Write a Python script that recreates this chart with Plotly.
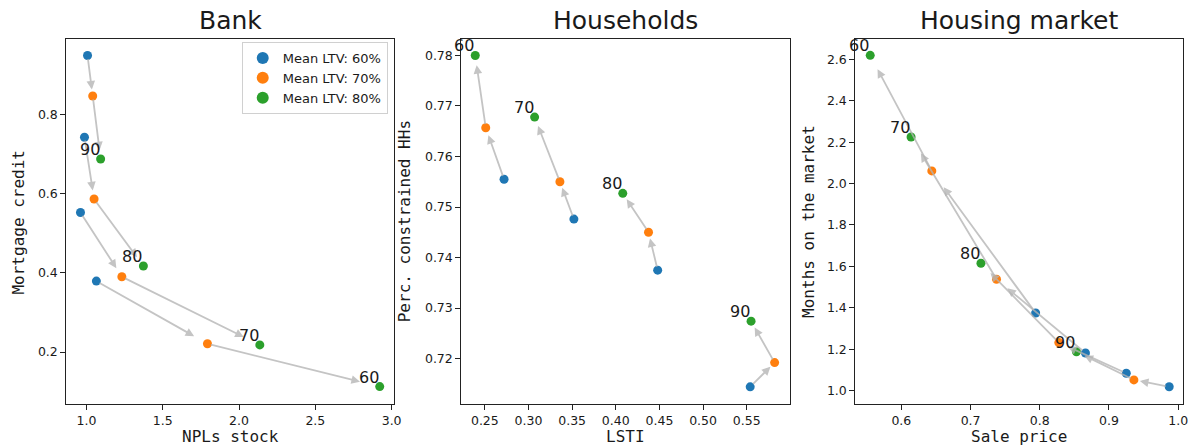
import plotly.graph_objects as go
import numpy as np

W, H = 1197, 447

# ---------------- data ----------------
scenarios = ["60", "70", "80", "90"]
ltv_labels = ["Mean LTV: 60%", "Mean LTV: 70%", "Mean LTV: 80%"]
colors = ["#1f77b4", "#ff7f0e", "#2ca02c"]

# Bank: NPLs stock (x) vs Mortgage credit (y); one list per mean LTV, ordered by scenario 60,70,80,90
bank_x_ltv60 = [1.065, 0.961, 0.987, 1.007]
bank_x_ltv70 = [1.793, 1.232, 1.050, 1.041]
bank_x_ltv80 = [2.922, 2.136, 1.373, 1.093]
bank_y_ltv60 = [0.379, 0.552, 0.742, 0.948]
bank_y_ltv70 = [0.221, 0.390, 0.586, 0.846]
bank_y_ltv80 = [0.113, 0.218, 0.417, 0.687]

# Households: LSTI (x) vs Perc. constrained HHs (y)
hh_x_ltv60 = [0.272, 0.352, 0.448, 0.554]
hh_x_ltv70 = [0.251, 0.336, 0.4375, 0.582]
hh_x_ltv80 = [0.239, 0.307, 0.408, 0.555]
hh_y_ltv60 = [0.7555, 0.7476, 0.7375, 0.7144]
hh_y_ltv70 = [0.7657, 0.7550, 0.7450, 0.7192]
hh_y_ltv80 = [0.7800, 0.7678, 0.7527, 0.7274]

# Housing market: Sale price (x) vs Months on the market (y)
hm_x_ltv60 = [0.794, 0.866, 0.925, 0.987]
hm_x_ltv70 = [0.644, 0.7375, 0.8275, 0.936]
hm_x_ltv80 = [0.555, 0.614, 0.715, 0.853]
hm_y_ltv60 = [1.375, 1.182, 1.084, 1.019]
hm_y_ltv70 = [2.061, 1.538, 1.232, 1.052]
hm_y_ltv80 = [2.619, 2.225, 1.615, 1.188]

bank_ticks_x = [1.0, 1.5, 2.0, 2.5, 3.0]
bank_ticks_y = [0.2, 0.4, 0.6, 0.8]
hh_ticks_x = [0.25, 0.30, 0.35, 0.40, 0.45, 0.50, 0.55]
hh_ticks_y = [0.72, 0.73, 0.74, 0.75, 0.76, 0.77, 0.78]
hm_ticks_x = [0.6, 0.7, 0.8, 0.9, 1.0]
hm_ticks_y = [1.0, 1.2, 1.4, 1.6, 1.8, 2.0, 2.2, 2.4, 2.6]

panels = [
    dict(title="Bank", xlabel="NPLs stock", ylabel="Mortgage credit",
         xs=[bank_x_ltv60, bank_x_ltv70, bank_x_ltv80],
         ys=[bank_y_ltv60, bank_y_ltv70, bank_y_ltv80],
         xrange=[0.868, 3.018], yrange=[0.069, 0.989],
         xticks=bank_ticks_x, yticks=bank_ticks_y, xfmt=".1f", yfmt=".1f",
         px=(66.7, 396.7), ylab_x=19),
    dict(title="Households", xlabel="LSTI", ylabel="Perc. constrained HHs",
         xs=[hh_x_ltv60, hh_x_ltv70, hh_x_ltv80],
         ys=[hh_y_ltv60, hh_y_ltv70, hh_y_ltv80],
         xrange=[0.223, 0.600], yrange=[0.7110, 0.7832],
         xticks=hh_ticks_x, yticks=hh_ticks_y, xfmt=".2f", yfmt=".2f",
         px=(464.0, 795.0), ylab_x=407),
    dict(title="Housing market", xlabel="Sale price", ylabel="Months on the market",
         xs=[hm_x_ltv60, hm_x_ltv70, hm_x_ltv80],
         ys=[hm_y_ltv60, hm_y_ltv70, hm_y_ltv80],
         xrange=[0.5334, 1.007], yrange=[0.9356, 2.6966],
         xticks=hm_ticks_x, yticks=hm_ticks_y, xfmt=".1f", yfmt=".1f",
         px=(860.3, 1190.0), ylab_x=813),
]

TOP, BOT = 39.3, 404.0
ydom = [1 - BOT / H, 1 - TOP / H]
plot_h = BOT - TOP

fig = go.Figure()
annotations = []
TXT = "#1a1a1a"
layout = {}

for i, p in enumerate(panels):
    n = "" if i == 0 else str(i + 1)
    xref, yref = "x" + n, "y" + n
    x0, x1 = p["px"]
    plot_w = x1 - x0
    xdom = [x0 / W, x1 / W]

    # arrows: LTV60 -> LTV70 -> LTV80 within each scenario
    sx = plot_w / (p["xrange"][1] - p["xrange"][0])
    sy = plot_h / (p["yrange"][1] - p["yrange"][0])
    for j in range(len(scenarios)):
        for k in range(2):
            ax_, ay_ = p["xs"][k][j], p["ys"][k][j]
            hx, hy = p["xs"][k + 1][j], p["ys"][k + 1][j]
            L = np.hypot((hx - ax_) * sx, (hy - ay_) * sy)
            annotations.append(dict(
                x=hx, y=hy, ax=ax_, ay=ay_, xref=xref, yref=yref,
                axref=xref, ayref=yref, text="", showarrow=True,
                arrowhead=2, arrowsize=0.95, arrowwidth=1.8,
                arrowcolor="rgba(180,180,180,0.78)",
                standoff=0.1 * L + 2.5, startstandoff=2))

    for k in range(3):
        fig.add_trace(go.Scatter(
            x=p["xs"][k], y=p["ys"][k], mode="markers",
            marker=dict(color=colors[k], size=9, line=dict(width=0)),
            name=ltv_labels[k], showlegend=(i == 0), legendgroup=ltv_labels[k],
            xaxis=xref, yaxis=yref))

    # scenario labels next to the LTV80 point
    for j, s in enumerate(scenarios):
        annotations.append(dict(
            x=p["xs"][2][j], y=p["ys"][2][j], xref=xref, yref=yref,
            text=s, showarrow=False, xanchor="right", yanchor="bottom",
            xshift=1, yshift=-2,
            font=dict(family="DejaVu Sans", size=16, color=TXT)))

    axcommon = dict(showline=True, mirror=True, linecolor="#222", linewidth=1,
                    ticks="outside", ticklen=5, tickcolor="#222", tickwidth=1,
                    showgrid=False, zeroline=False,
                    tickfont=dict(family="DejaVu Sans", size=12.5, color=TXT))
    layout["xaxis" + n] = dict(domain=xdom, range=p["xrange"], anchor=yref,
                               tickvals=p["xticks"], tickformat=p["xfmt"], **axcommon)
    layout["yaxis" + n] = dict(domain=ydom, range=p["yrange"], anchor=xref,
                               tickvals=p["yticks"], tickformat=p["yfmt"], **axcommon)

    cx = (x0 + x1) / 2 / W
    annotations.append(dict(x=cx, y=1 - 37 / H, xref="paper", yref="paper",
                            text=p["title"], showarrow=False, xanchor="center",
                            yanchor="bottom",
                            font=dict(family="DejaVu Sans", size=25, color=TXT)))
    annotations.append(dict(x=cx, y=1 - 436.5 / H, xref="paper", yref="paper",
                            text=p["xlabel"], showarrow=False, xanchor="center",
                            yanchor="middle",
                            font=dict(family="DejaVu Sans Mono", size=16, color=TXT)))
    annotations.append(dict(x=p["ylab_x"] / W, y=1 - (TOP + BOT) / 2 / H,
                            xref="paper", yref="paper", text=p["ylabel"],
                            showarrow=False, textangle=-90, xanchor="center",
                            yanchor="middle",
                            font=dict(family="DejaVu Sans Mono", size=16, color=TXT)))

fig.update_layout(
    width=W, height=H, margin=dict(l=0, r=0, t=0, b=0),
    paper_bgcolor="white", plot_bgcolor="white",
    annotations=annotations,
    legend=dict(x=390 / W, y=1 - 42 / H, xanchor="right", yanchor="top",
                bgcolor="white", bordercolor="#d0d0d0", borderwidth=1,
                font=dict(family="DejaVu Sans", size=13, color=TXT),
                itemsizing="constant", tracegroupgap=0),
    **layout)

fig.write_html("out.html")
